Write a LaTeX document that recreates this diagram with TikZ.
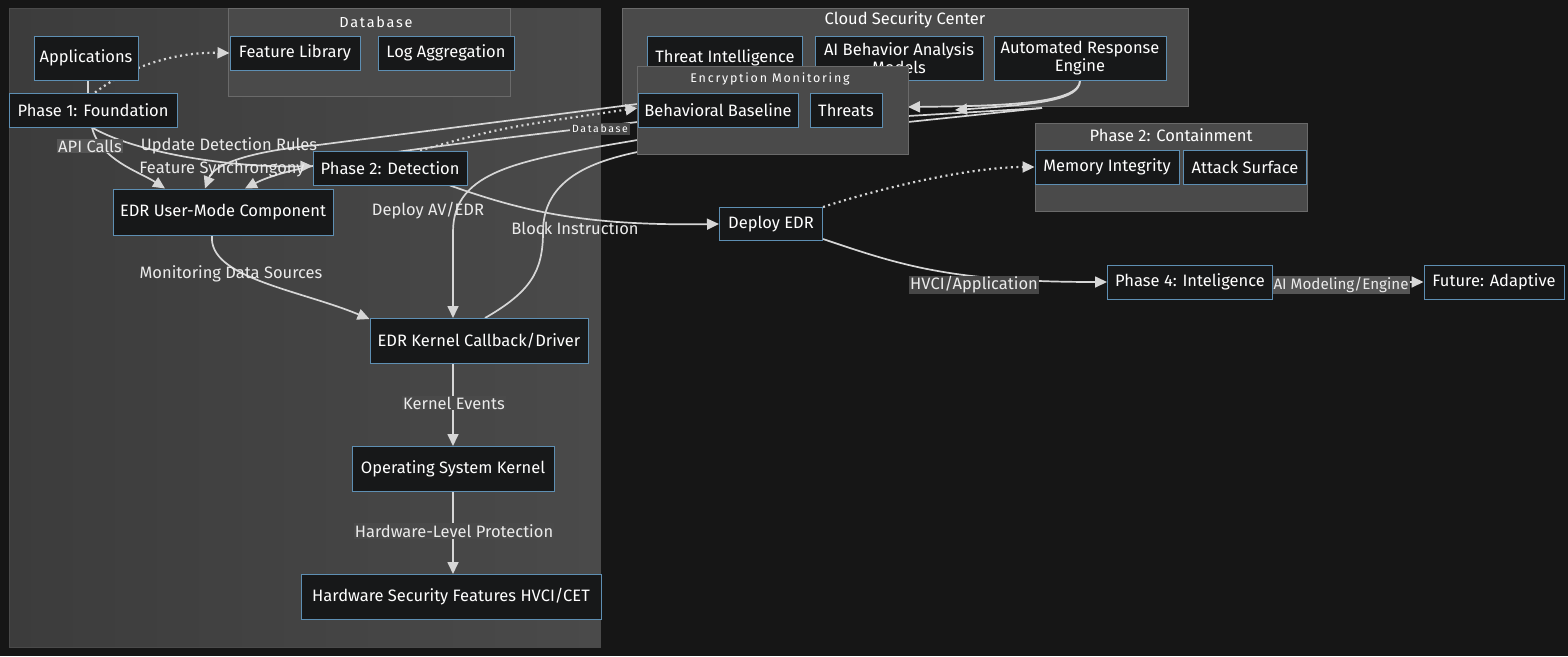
\documentclass[tikz,border=0pt]{standalone}
\usepackage{fontspec}
\setmainfont{Fira Sans}
\usetikzlibrary{arrows.meta,calc}
\definecolor{bg}{HTML}{161616}
\definecolor{panelA}{HTML}{3C3C3C}
\definecolor{panelB}{HTML}{4A4A4A}
\definecolor{clus}{HTML}{4A4A4A}
\definecolor{clusline}{HTML}{6A6A6A}
\definecolor{nfill}{HTML}{171819}
\definecolor{nline}{HTML}{5E8FB3}
\definecolor{edgec}{HTML}{D6D6D6}
\definecolor{lblbg}{HTML}{555555}
\pgfdeclarelayer{bgl}\pgfdeclarelayer{edl}
\pgfsetlayers{bgl,edl,main}
\tikzset{
 box/.style={draw=nline, line width=1pt, fill=nfill, text=white, font=\fontsize{16.5}{18}\selectfont, inner sep=0pt, align=center},
 clusterbox/.style={draw=clusline, line width=1pt, fill=clus},
 ctitle/.style={text=white, font=\fontsize{16.5}{18}\selectfont},
 stitle/.style={text=white, font=\fontsize{14.5}{16}\selectfont\addfontfeatures{LetterSpace=12}},
 conn/.style={draw=edgec, line width=1.7pt, -{Triangle[length=12pt,width=11pt]}},
 plainc/.style={draw=edgec, line width=1.7pt},
 dotc/.style={draw=edgec, line width=2.2pt, dash pattern=on 2pt off 3.5pt, -{Triangle[length=12pt,width=11pt]}},
 elabel/.style={fill=lblbg, text=white!92!black, font=\fontsize{16.5}{18}\selectfont, inner sep=1pt},
 elabeln/.style={text=white!92!black, font=\fontsize{16.5}{18}\selectfont, inner sep=1pt},
}
\begin{document}
\begin{tikzpicture}[x=1pt,y=-1pt]
\useasboundingbox (0,0) rectangle (1568,656);
\begin{pgfonlayer}{bgl}
\fill[bg] (0,0) rectangle (1568,656);
\shade[left color=panelA, right color=panelB] (9,8) rectangle (600,647);
\draw[clusline!70!black, line width=0.8pt] (9,8) rectangle (600,647);
\draw[clusterbox] (228,8) rectangle (510,96);
\draw[clusterbox] (622,8) rectangle (1188,106);
\draw[clusterbox] (1035,123) rectangle (1307,211);
\end{pgfonlayer}
% cluster titles
\node[stitle] (tdb) at (376,22) {Database};
\node[ctitle] (tcloud) at (905,20) {Cloud Security Center};
\node[ctitle] (tcont) at (1171,135) {Phase 2: Containment};
% cloud nodes
\node[box, minimum width=155pt, minimum height=44pt] (ti) at (725,58) {Threat Intelligence};
\node[box, minimum width=168pt, minimum height=44pt] (ai) at (899,58) {AI Behavior Analysis\\Models};
\node[box, minimum width=172pt, minimum height=44pt] (are) at (1080,58) {Automated Response\\Engine};
% encryption monitoring cluster on top
\draw[clusterbox] (637,66) rectangle (908,154);
\coordinate (encNW) at (637,66);
\coordinate (encSE) at (908,154);
\node[text=white, font=\fontsize{12.5}{14}\selectfont\addfontfeatures{LetterSpace=14}] (tenc) at (770,79) {Encryption Monitoring};
\node[box, minimum width=160pt, minimum height=34pt] (bb) at (718,110) {Behavioral Baseline};
\node[box, minimum width=72pt, minimum height=34pt] (th) at (846,110) {Threats};
% other nodes
\node[box, minimum width=104pt, minimum height=44pt] (app) at (86,58) {Applications};
\node[box, minimum width=130pt, minimum height=34pt] (fl) at (295,53) {Feature Library};
\node[box, minimum width=136pt, minimum height=34pt] (la) at (446,53) {Log Aggregation};
\node[box, minimum width=168pt, minimum height=34pt] (p1) at (93,110) {Phase 1: Foundation};
\node[box, minimum width=154pt, minimum height=34pt] (p2) at (390,168) {Phase 2: Detection};
\node[box, minimum width=220pt, minimum height=46pt] (eu) at (223,212) {EDR User-Mode Component};
\node[box, minimum width=218pt, minimum height=45pt] (ek) at (479,341) {EDR Kernel Callback/Driver};
\node[box, minimum width=202pt, minimum height=45pt] (os) at (453,469) {Operating System Kernel};
\node[box, minimum width=300pt, minimum height=45pt] (hw) at (451,597) {Hardware Security Features HVCI/CET};
\node[box, minimum width=144pt, minimum height=34pt] (mi) at (1107,167) {Memory Integrity};
\node[box, minimum width=123pt, minimum height=34pt] (as) at (1245,167) {Attack Surface};
\node[box, minimum width=103pt, minimum height=33pt] (de) at (771,224) {Deploy EDR};
\node[box, minimum width=165pt, minimum height=34pt] (p4) at (1190,282) {Phase 4: Inteligence};
\node[box, minimum width=140pt, minimum height=34pt] (fu) at (1494,282) {Future: Adaptive};
% edge labels
\node[elabel] (lapi) at (90,146) {API Calls};
\node[elabeln] (lupd) at (229,146) {Update Detection Rules};
\node[elabeln] (lfeat) at (222,169) {Feature Synchrongony};
\node[elabeln] (ldav) at (428,211) {Deploy AV/EDR};
\node[elabeln] (lblk) at (575,228) {Block Instruction};
\node[fill=lblbg!85!black, text=white, font=\fontsize{10.5}{12}\selectfont\addfontfeatures{LetterSpace=16}, inner sep=2pt] (ldb) at (600,129) {Database};
\node[elabeln] (lmon) at (231,274) {Monitoring Data Sources};
\node[elabeln, fill=panelB] (lke) at (454,403) {Kernel Events};
\node[elabeln, fill=panelB] (lhw) at (454,531) {Hardware-Level Protection};
\node[elabel, fill=black!72] (lhv) at (974,285) {HVCI/Application};
\node[elabel, font=\fontsize{15.2}{16}\selectfont] (lai) at (1341,285) {AI Modeling/Engine};
\coordinate (areA) at (955,110);
\coordinate (areB) at (1042,108);
\begin{pgfonlayer}{edl}
\draw[plainc] (app.south -| 88,0) -- (p1.north -| 88,0);
\draw[dotc] ($(p1.north)+(2,0)$) .. controls (130,66) and (175,52) .. (fl.west);
\draw[conn] ($(p1.south)+(-1,0)$) .. controls (100,160) and (140,172) .. ($(eu.north)+(-58,0)$);
\draw[conn] ($(p1.south)+(-1,0)$) .. controls (140,155) and (240,168) .. ($(p2.west)+(0,-2)$);
\draw[conn] ($(bb.west)+(0,-6)$) -- (318,145) .. controls (260,150) and (215,162) .. ($(eu.north)+(-18,0)$);
\draw[conn] ($(bb.west)+(0,12)$) .. controls (450,145) and (300,160) .. ($(eu.north)+(22,0)$);
\draw[dotc] ($(p2.north)+(30,0)$) .. controls (500,128) .. ($(bb.west)+(0,-2)$);
\draw[conn] ($(bb.west)+(0,30)$) .. controls (520,160) and (453,170) .. (453,232) -- (ek.north -| 453,0);
\draw[plainc] ($(ek.north)+(6,0)$) .. controls (530,292) and (543,272) .. (543,232) .. controls (543,180) and (590,162) .. ($(bb.west)+(0,42)$);
\draw[conn] ($(p2.south)+(60,0)$) .. controls (520,210) and (580,226) .. (de.west);
\draw[conn] ($(eu.south)+(-11,0)$) .. controls (208,278) and (300,290) .. ($(ek.west)+(0,-22)$);
\draw[conn] (ek.south -| 453,0) -- (os.north -| 453,0);
\draw[conn] (os.south -| 453,0) -- (hw.north -| 453,0);
\draw[dotc] (de.north east) .. controls (900,182) and (980,167) .. (mi.west);
\draw[conn] ($(de.south east)+(0,-2)$) .. controls (900,265) and (950,282) .. (p4.west);
\draw[conn] (p4.east) -- (fu.west);
\draw[conn] (are.south) .. controls (1080,100) and (1040,104) .. (areA);
\draw[conn] (are.south) .. controls (1080,104) and (1000,106) .. (encSE |- 0,107);
\draw[plainc] (encSE |- 0,116) -- (areB);
\draw[plainc] (encSE |- 0,122) -- (areB);
\end{pgfonlayer}
\end{tikzpicture}
\end{document}
